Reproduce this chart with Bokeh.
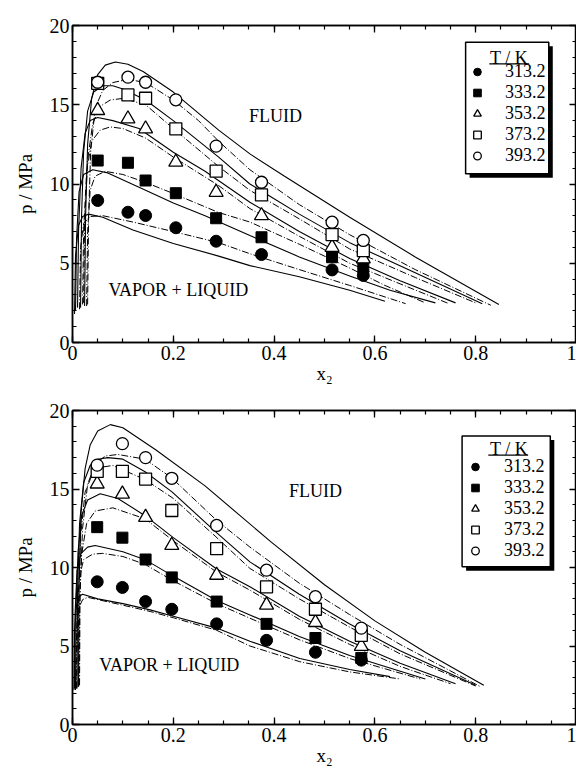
from bokeh.plotting import figure
from bokeh.layouts import column
from bokeh.models import (Legend, LegendItem, LinearAxis, SingleIntervalTicker,
                          CustomJSTickFormatter, Label, Range1d, BoxAnnotation)
from bokeh.embed import file_html
from bokeh.resources import INLINE

SERIF = "Liberation Serif"
temps = ["313.2", "333.2", "353.2", "373.2", "393.2"]

# ---------------- upper panel: experimental points ----------------
top_x = [0.05, 0.11, 0.145, 0.205, 0.285, 0.375, 0.515, 0.577]
top_p313 = [8.96, 8.22, 8.01, 7.24, 6.39, 5.55, 4.58, 4.23]
top_p333 = [11.48, 11.34, 10.22, 9.42, 7.84, 6.64, 5.38, 4.75]
top_p353 = [14.64, 14.11, 13.48, 11.38, 9.48, 8.01, 6.01, 5.28]
top_p373 = [16.35, 15.62, 15.41, 13.48, 10.81, 9.31, 6.81, 5.80]
top_p393 = [16.42, 16.74, 16.42, 15.31, 12.39, 10.11, 7.59, 6.44]

# upper panel: model curves (solid and dash-dot)
top_s393_x = [0.024, 0.026, 0.03, 0.038, 0.05, 0.065, 0.085, 0.11, 0.14, 0.2, 0.29, 0.352, 0.42, 0.55, 0.68, 0.846]
top_s393_p = [2.3, 8.0, 12.5, 15.4, 16.9, 17.5, 17.7, 17.55, 17.1, 15.8, 13.4, 11.9, 10.5, 7.9, 5.4, 2.4]
top_d393_x = [0.03, 0.032, 0.036, 0.045, 0.06, 0.08, 0.11, 0.145, 0.2, 0.25, 0.29, 0.352, 0.45, 0.55, 0.68, 0.83]
top_d393_p = [2.4, 8.0, 12.0, 14.8, 15.9, 16.4, 16.6, 16.4, 15.3, 14.0, 12.7, 10.9, 8.7, 6.8, 4.6, 2.35]
top_s373_x = [0.016, 0.018, 0.022, 0.03, 0.042, 0.06, 0.08, 0.1, 0.145, 0.2, 0.29, 0.352, 0.45, 0.55, 0.68, 0.813]
top_s373_p = [2.2, 8.0, 12.0, 14.6, 15.8, 16.2, 16.2, 16.0, 15.3, 14.0, 11.7, 10.0, 8.1, 6.3, 4.4, 2.45]
top_d373_x = [0.022, 0.024, 0.03, 0.04, 0.055, 0.075, 0.1, 0.145, 0.2, 0.29, 0.352, 0.45, 0.55, 0.68, 0.80]
top_d373_p = [2.5, 7.5, 11.5, 13.8, 14.9, 15.3, 15.4, 15.0, 13.5, 11.1, 9.6, 7.8, 5.9, 4.1, 2.5]
top_s353_x = [0.01, 0.012, 0.017, 0.025, 0.035, 0.05, 0.08, 0.132, 0.2, 0.263, 0.352, 0.45, 0.55, 0.65, 0.76]
top_s353_p = [2.2, 7.0, 11.0, 13.2, 14.0, 14.2, 14.0, 13.5, 12.0, 10.8, 8.85, 7.0, 5.3, 3.9, 2.5]
top_d353_x = [0.02, 0.022, 0.028, 0.038, 0.055, 0.075, 0.1, 0.145, 0.2, 0.29, 0.352, 0.45, 0.55, 0.65, 0.747]
top_d353_p = [2.4, 7.0, 10.8, 12.7, 13.4, 13.6, 13.5, 12.9, 11.7, 9.9, 8.45, 6.7, 5.0, 3.7, 2.45]
top_s333_x = [0.006, 0.008, 0.013, 0.022, 0.04, 0.07, 0.132, 0.2, 0.263, 0.352, 0.45, 0.55, 0.63, 0.72]
top_s333_p = [2.0, 6.5, 9.5, 10.6, 10.9, 10.7, 9.8, 8.8, 8.0, 6.75, 5.4, 4.2, 3.3, 2.5]
top_d333_x = [0.028, 0.03, 0.035, 0.045, 0.065, 0.1, 0.145, 0.2, 0.29, 0.352, 0.45, 0.55, 0.62, 0.70]
top_d333_p = [2.3, 7.0, 9.6, 10.5, 10.8, 10.6, 10.1, 9.4, 8.2, 7.6, 6.2, 4.7, 3.6, 2.5]
top_s313_x = [0.004, 0.006, 0.012, 0.02, 0.032, 0.06, 0.12, 0.2, 0.29, 0.352, 0.45, 0.55, 0.62]
top_s313_p = [1.8, 5.5, 7.4, 7.95, 8.1, 7.9, 7.1, 6.25, 5.45, 4.85, 4.15, 3.3, 2.6]
top_d313_x = [0.014, 0.016, 0.022, 0.035, 0.06, 0.12, 0.2, 0.29, 0.352, 0.45, 0.55, 0.661]
top_d313_p = [2.1, 6.0, 7.5, 7.95, 8.0, 7.6, 7.0, 6.3, 5.6, 4.6, 3.6, 2.45]

# ---------------- lower panel: experimental points ----------------
bot_x = [0.049, 0.099, 0.145, 0.197, 0.286, 0.385, 0.482, 0.573]
bot_p313 = [9.09, 8.73, 7.83, 7.34, 6.41, 5.36, 4.60, 4.10]
bot_p333 = [12.57, 11.90, 10.51, 9.37, 7.83, 6.41, 5.51, 4.24]
bot_p353 = [15.32, 14.68, 13.20, 11.41, 9.51, 7.61, 6.50, 4.98]
bot_p373 = [16.12, 16.12, 15.63, 13.63, 11.20, 8.77, 7.34, 5.68]
bot_p393 = [16.52, 17.89, 17.00, 15.68, 12.68, 9.83, 8.14, 6.14]

# lower panel: model curves
bot_s393_x = [0.012, 0.013, 0.017, 0.025, 0.035, 0.05, 0.075, 0.1, 0.165, 0.263, 0.329, 0.395, 0.5, 0.6, 0.7, 0.816]
bot_s393_p = [2.4, 9.0, 13.5, 16.3, 17.8, 18.7, 19.1, 18.9, 17.5, 15.2, 13.4, 11.6, 8.9, 6.6, 4.6, 2.5]
bot_d393_x = [0.014, 0.015, 0.02, 0.03, 0.045, 0.065, 0.09, 0.144, 0.197, 0.286, 0.352, 0.45, 0.55, 0.65, 0.81]
bot_d393_p = [2.5, 8.5, 12.5, 15.3, 16.6, 17.1, 17.2, 16.9, 15.7, 13.0, 11.3, 9.0, 7.0, 5.1, 2.4]
bot_s373_x = [0.009, 0.010, 0.014, 0.022, 0.035, 0.05, 0.07, 0.1, 0.144, 0.198, 0.283, 0.352, 0.45, 0.55, 0.65, 0.80]
bot_s373_p = [2.3, 8.5, 12.8, 15.4, 16.5, 16.9, 17.0, 16.9, 16.1, 14.8, 12.3, 10.36, 8.3, 6.4, 4.7, 2.5]
bot_d373_x = [0.011, 0.012, 0.016, 0.025, 0.04, 0.06, 0.08, 0.144, 0.2, 0.283, 0.352, 0.45, 0.55, 0.65, 0.80]
bot_d373_p = [2.4, 8.0, 12.0, 14.8, 16.0, 16.4, 16.5, 15.6, 14.4, 12.0, 9.94, 8.0, 6.2, 4.5, 2.45]
bot_s353_x = [0.006, 0.007, 0.011, 0.018, 0.03, 0.055, 0.09, 0.144, 0.2, 0.286, 0.352, 0.45, 0.55, 0.65, 0.76]
bot_s353_p = [2.2, 7.5, 11.0, 13.3, 14.3, 14.7, 14.4, 13.3, 11.9, 9.9, 8.78, 6.9, 5.3, 3.9, 2.6]
bot_d353_x = [0.013, 0.014, 0.018, 0.028, 0.045, 0.08, 0.144, 0.2, 0.286, 0.352, 0.45, 0.55, 0.65, 0.75]
bot_d353_p = [2.5, 7.5, 10.8, 12.8, 13.6, 13.8, 13.1, 11.7, 9.7, 8.56, 6.7, 5.1, 3.7, 2.6]
bot_s333_x = [0.004, 0.005, 0.009, 0.017, 0.03, 0.045, 0.1, 0.144, 0.197, 0.286, 0.352, 0.45, 0.55, 0.70]
bot_s333_p = [2.3, 7.0, 9.8, 10.9, 11.3, 11.4, 11.0, 10.5, 9.5, 7.9, 6.98, 5.6, 4.4, 2.9]
bot_d333_x = [0.008, 0.009, 0.013, 0.022, 0.04, 0.06, 0.1, 0.144, 0.197, 0.286, 0.352, 0.45, 0.55, 0.69]
bot_d333_p = [2.3, 6.5, 9.3, 10.5, 10.85, 10.9, 10.7, 10.2, 9.2, 7.7, 6.77, 5.4, 4.2, 2.9]
bot_s313_x = [0.003, 0.004, 0.008, 0.013, 0.02, 0.05, 0.1, 0.154, 0.2, 0.286, 0.352, 0.451, 0.55, 0.63]
bot_s313_p = [2.2, 6.0, 7.6, 8.15, 8.3, 8.0, 7.7, 7.3, 6.9, 6.14, 5.3, 4.2, 3.5, 3.05]
bot_d313_x = [0.007, 0.008, 0.012, 0.02, 0.03, 0.1, 0.154, 0.2, 0.286, 0.352, 0.451, 0.55, 0.65]
bot_d313_p = [2.3, 6.0, 7.4, 7.95, 8.1, 7.6, 7.2, 6.8, 6.0, 5.0, 4.0, 3.35, 2.9]

# axis ticks
x_major, x_minor_n = 0.2, 4
y_major, y_minor_n = 5, 5

MARKERS = {
    "313.2": dict(marker="circle", fill_color="black", line_color="black", size=12),
    "333.2": dict(marker="square", fill_color="black", line_color="black", size=11),
    "353.2": dict(marker="triangle", fill_color="white", line_color="black", size=14, line_width=1.3),
    "373.2": dict(marker="square", fill_color="white", line_color="black", size=12, line_width=1.3),
    "393.2": dict(marker="circle", fill_color="white", line_color="black", size=12, line_width=1.3),
}

FRAME_W = 504
GLYPH_W, GLYPH_H, PAD = 20, 19, 2
ROW_PITCH = 20


def style_axis(ax, ticker, labels=True):
    ax.ticker = ticker
    ax.axis_line_color = "black"
    ax.axis_line_width = 1.5
    ax.major_tick_in = 7
    ax.major_tick_out = 0
    ax.minor_tick_in = 4
    ax.minor_tick_out = 0
    ax.major_tick_line_color = "black"
    ax.minor_tick_line_color = "black"
    ax.major_tick_line_width = 1.3
    ax.minor_tick_line_width = 1.2
    if labels:
        ax.major_label_text_font = SERIF
        ax.major_label_text_font_size = "20px"
        ax.major_label_text_color = "black"
        ax.major_label_standoff = 3
    else:
        ax.formatter = CustomJSTickFormatter(code="return ''")
        ax.major_label_standoff = 0


def make_panel(frame_h, border_top, xs, ps, solid, dashed, key, fluid_xy, vl_xy):
    p = figure(frame_width=FRAME_W, frame_height=frame_h,
               x_range=Range1d(0, 1), y_range=Range1d(0, 20),
               output_backend="svg", toolbar_location=None,
               min_border_left=72, min_border_right=0,
               min_border_top=border_top, min_border_bottom=0)
    p.background_fill_color = "white"
    p.border_fill_color = "white"
    p.outline_line_color = "black"
    p.outline_line_width = 1.5
    p.xgrid.visible = False
    p.ygrid.visible = False

    style_axis(p.xaxis[0], SingleIntervalTicker(interval=x_major, num_minor_ticks=x_minor_n))
    style_axis(p.yaxis[0], SingleIntervalTicker(interval=y_major, num_minor_ticks=y_minor_n))
    p.xaxis[0].formatter = CustomJSTickFormatter(code="return String(Math.round(tick*10)/10)")
    p.xaxis[0].axis_label = "x\u2082"
    p.yaxis[0].axis_label = "p / MPa"
    for ax in (p.xaxis[0], p.yaxis[0]):
        ax.axis_label_text_font = SERIF
        ax.axis_label_text_font_size = "19px"
        ax.axis_label_text_font_style = "normal"
        ax.axis_label_text_color = "black"
    p.xaxis[0].axis_label_standoff = 0
    p.yaxis[0].axis_label_standoff = 11
    ra = LinearAxis()
    style_axis(ra, SingleIntervalTicker(interval=y_major, num_minor_ticks=y_minor_n), labels=False)
    p.add_layout(ra, "right")
    ta = LinearAxis()
    style_axis(ta, SingleIntervalTicker(interval=x_major, num_minor_ticks=x_minor_n), labels=False)
    p.add_layout(ta, "above")

    for t in temps:
        sx, sp = solid[t]
        dx, dp = dashed[t]
        p.line(sx, sp, line_color="black", line_width=1.1)
        p.line(dx, dp, line_color="black", line_width=1.0, line_dash="7 2 1 2")

    items = []
    for t in temps:
        r = p.scatter(xs, ps[t], **MARKERS[t])
        items.append(LegendItem(label=t, renderers=[r]))

    # key frame: drop shadow, white box, centred underlined title
    kx0, kx1, ky0, ky1 = key["box"]
    dx_px = 4.0 / FRAME_W
    dy_px = 4.0 * 20.0 / frame_h
    p.add_layout(BoxAnnotation(left=kx0 + dx_px, right=kx1 + dx_px, bottom=ky0 - dy_px, top=ky1 - dy_px,
                               fill_color="black", fill_alpha=1.0, line_alpha=0))
    p.add_layout(BoxAnnotation(left=kx0, right=kx1, bottom=ky0, top=ky1,
                               fill_color="white", fill_alpha=1.0,
                               line_color="black", line_width=1.5, line_alpha=1.0))
    tx, ty = key["title"]
    p.add_layout(Label(x=tx, y=ty, text="T / K", text_font=SERIF, text_font_size="18px",
                       text_align="center", text_baseline="middle", text_color="black"))
    ux0, ux1, uy = key["underline"]
    p.add_layout(BoxAnnotation(left=ux0, right=ux1, bottom=uy - 0.04, top=uy + 0.04,
                               fill_color="black", fill_alpha=1.0, line_alpha=0))

    # legend entries placed so their rows line up inside the box
    mx, row_bottom, text_left = key["entries"]
    loc_x = mx * FRAME_W - PAD - GLYPH_W / 2.0
    loc_y = row_bottom * frame_h / 20.0 - ROW_PITCH / 2.0 - PAD
    standoff = int(round(text_left * FRAME_W - (loc_x + PAD + GLYPH_W)))
    leg = Legend(items=items, location=(int(round(loc_x)), int(round(loc_y))),
                 background_fill_alpha=0.0, border_line_alpha=0.0,
                 label_text_font=SERIF, label_text_font_size="18px", label_text_color="black",
                 padding=PAD, spacing=0, margin=0, glyph_width=GLYPH_W, glyph_height=GLYPH_H,
                 label_height=GLYPH_H, label_standoff=standoff)
    p.add_layout(leg)

    p.add_layout(Label(x=fluid_xy[0], y=fluid_xy[1], text="FLUID", text_font=SERIF,
                       text_font_size="18px", text_align="center", text_baseline="middle",
                       text_color="black"))
    p.add_layout(Label(x=vl_xy[0], y=vl_xy[1], text="VAPOR + LIQUID", text_font=SERIF,
                       text_font_size="18px", text_align="center", text_baseline="middle",
                       text_color="black"))
    return p


top_ps = {"313.2": top_p313, "333.2": top_p333, "353.2": top_p353, "373.2": top_p373, "393.2": top_p393}
top_solid = {"313.2": (top_s313_x, top_s313_p), "333.2": (top_s333_x, top_s333_p),
             "353.2": (top_s353_x, top_s353_p), "373.2": (top_s373_x, top_s373_p),
             "393.2": (top_s393_x, top_s393_p)}
top_dash = {"313.2": (top_d313_x, top_d313_p), "333.2": (top_d333_x, top_d333_p),
            "353.2": (top_d353_x, top_d353_p), "373.2": (top_d373_x, top_d373_p),
            "393.2": (top_d393_x, top_d393_p)}
bot_ps = {"313.2": bot_p313, "333.2": bot_p333, "353.2": bot_p353, "373.2": bot_p373, "393.2": bot_p393}
bot_solid = {"313.2": (bot_s313_x, bot_s313_p), "333.2": (bot_s333_x, bot_s333_p),
             "353.2": (bot_s353_x, bot_s353_p), "373.2": (bot_s373_x, bot_s373_p),
             "393.2": (bot_s393_x, bot_s393_p)}
bot_dash = {"313.2": (bot_d313_x, bot_d313_p), "333.2": (bot_d333_x, bot_d333_p),
            "353.2": (bot_d353_x, bot_d353_p), "373.2": (bot_d373_x, bot_d373_p),
            "393.2": (bot_d393_x, bot_d393_p)}

top_key = dict(box=(0.78, 0.945, 10.64, 18.95), title=(0.866, 17.98),
               underline=(0.827, 0.906, 17.58), entries=(0.803, 11.74, 0.858))
bot_key = dict(box=(0.773, 0.948, 10.04, 18.37), title=(0.866, 17.53),
               underline=(0.825, 0.904, 17.15), entries=(0.80, 10.99, 0.858))

p1 = make_panel(317, 25, top_x, top_ps, top_solid, top_dash, top_key, (0.403, 14.3), (0.21, 3.3))
p2 = make_panel(314, 24, bot_x, bot_ps, bot_solid, bot_dash, bot_key, (0.482, 14.9), (0.192, 3.8))

layout = column(p1, p2, spacing=0)
open("out.html", "w").write(file_html(layout, INLINE))
